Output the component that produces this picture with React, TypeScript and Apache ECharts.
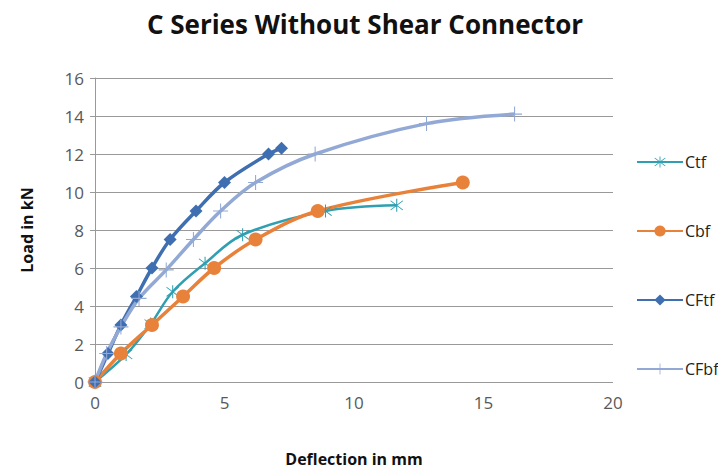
import React, { useEffect, useRef } from "react";
import * as echarts from "echarts";

const seriesNames = ["Ctf", "Cbf", "CFtf", "CFbf"];
const ctfX = [0, 1.2, 2.15, 3.0, 4.25, 5.7, 8.9, 11.65];
const ctfY = [0, 1.45, 3.05, 4.75, 6.25, 7.75, 9.0, 9.3];
const cbfX = [0, 1.0, 2.2, 3.4, 4.6, 6.2, 8.6, 14.2];
const cbfY = [0, 1.5, 3, 4.5, 6, 7.5, 9, 10.5];
const cftfX = [0, 0.5, 1.0, 1.6, 2.2, 2.9, 3.9, 5.0, 6.7, 7.2];
const cftfY = [0, 1.5, 3, 4.5, 6, 7.5, 9, 10.5, 12, 12.3];
const cfbfX = [0, 0.45, 1.0, 1.7, 2.75, 3.8, 4.85, 6.2, 8.5, 12.8, 16.2];
const cfbfY = [0, 1.5, 2.9, 4.4, 5.9, 7.5, 9, 10.5, 12, 13.6, 14.1];
const xTicks = [0, 5, 10, 15, 20];
const yTicks = [0, 2, 4, 6, 8, 10, 12, 14, 16];

const plusPath = "path://M9.3,0 L10.7,0 L10.7,9.3 L20,9.3 L20,10.7 L10.7,10.7 L10.7,20 L9.3,20 L9.3,10.7 L0,10.7 L0,9.3 L9.3,9.3 Z";
const starPath =
  "path://M9.4,0 L10.6,0 L10.6,20 L9.4,20 Z M2.5,3.3 L3.3,2.5 L17.5,16.7 L16.7,17.5 Z M16.7,2.5 L17.5,3.3 L3.3,17.5 L2.5,16.7 Z";

function pairs(xs: number[], ys: number[]) {
  return xs.map((x, i) => [x, ys[i]]);
}

export default function App() {
  const ref = useRef<HTMLDivElement>(null);
  useEffect(() => {
    if (!ref.current) return;
    const chart = echarts.init(ref.current, null, { renderer: "svg" });
    const font = "'Open Sans', 'Noto Sans', sans-serif";
    chart.setOption({
      animation: false,
      backgroundColor: "#ffffff",
      title: {
        text: "C Series Without Shear Connector",
        left: 360,
        textAlign: "center",
        top: 6,
        textStyle: { fontFamily: font, fontSize: 26, fontWeight: "bold", color: "#111" },
      },
      legend: {
        orient: "vertical",
        left: 636,
        top: 149,
        padding: [5, 0, 5, 0],
        itemWidth: 46,
        itemHeight: 14,
        itemGap: 53,
        data: seriesNames,
        textStyle: { fontFamily: font, fontSize: 16, color: "#222", padding: [0, 0, 0, -3] },
      },
      grid: { left: 95, right: 113, top: 78, bottom: 92, containLabel: false },
      xAxis: {
        type: "value",
        min: xTicks[0],
        max: xTicks[xTicks.length - 1],
        interval: 5,
        name: "Deflection in mm",
        nameLocation: "middle",
        nameGap: 69,
        nameTextStyle: { fontFamily: font, fontSize: 16, fontWeight: "bold", color: "#111" },
        axisLine: { show: false },
        axisTick: { show: false },
        splitLine: { show: false },
        axisLabel: { fontFamily: font, fontSize: 17, color: "#595959", margin: 12 },
      },
      yAxis: {
        type: "value",
        min: yTicks[0],
        max: yTicks[yTicks.length - 1],
        interval: 2,
        name: "Load in kN",
        nameLocation: "middle",
        nameGap: 60,
        nameTextStyle: { fontFamily: font, fontSize: 16, fontWeight: "bold", color: "#111" },
        axisLine: { show: true, lineStyle: { color: "#999999", width: 1 } },
        axisTick: { show: true, length: 5, lineStyle: { color: "#999999" } },
        splitLine: { show: true, lineStyle: { color: "#999999", width: 1 } },
        axisLabel: { fontFamily: font, fontSize: 17, color: "#595959", margin: 11 },
      },
      series: [
        {
          name: "Ctf",
          type: "line",
          smooth: 0.35,
          data: pairs(ctfX, ctfY),
          symbol: starPath,
          symbolSize: 13,
          lineStyle: { color: "#2f9fb1", width: 2.5 },
          itemStyle: { color: "#2f9fb1" },
        },
        {
          name: "Cbf",
          type: "line",
          smooth: 0.35,
          data: pairs(cbfX, cbfY),
          symbol: "circle",
          symbolSize: 14,
          lineStyle: { color: "#e8823a", width: 3.5 },
          itemStyle: { color: "#e8823a" },
        },
        {
          name: "CFtf",
          type: "line",
          smooth: 0.35,
          data: pairs(cftfX, cftfY),
          symbol: "diamond",
          symbolSize: 13,
          lineStyle: { color: "#3f6fb0", width: 3.5 },
          itemStyle: { color: "#3f6fb0" },
        },
        {
          name: "CFbf",
          type: "line",
          smooth: 0.35,
          data: pairs(cfbfX, cfbfY),
          symbol: plusPath,
          symbolSize: 15,
          lineStyle: { color: "#92a9d6", width: 3.5 },
          itemStyle: { color: "#92a9d6" },
        },
      ],
    });
    return () => chart.dispose();
  }, []);
  return <div ref={ref} style={{ width: 726, height: 474, margin: -8 }} />;
}
